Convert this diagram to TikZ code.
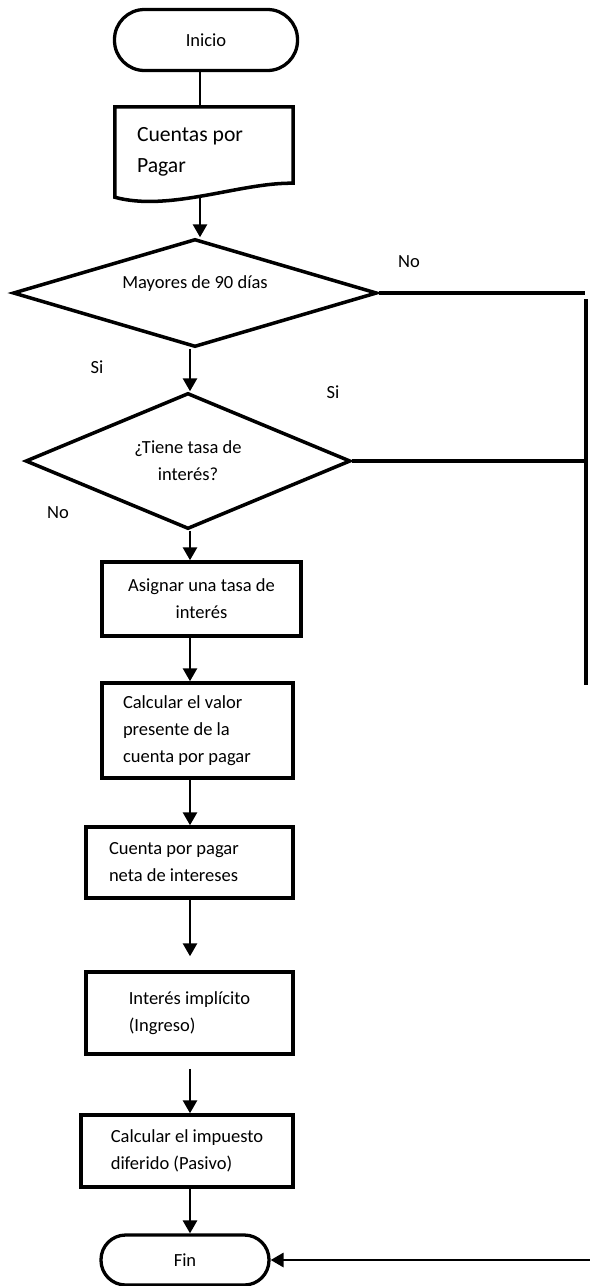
\documentclass[tikz,border=0pt]{standalone}
\usepackage{fontspec}
\setmainfont{Carlito}
\usetikzlibrary{shapes.geometric,arrows.meta}
\tikzset{
  term/.style={draw=black, line width=2.8pt, rounded corners=0.9cm,
    minimum width=5.49cm, minimum height=1.83cm, align=center},
  docbox/.style={draw=none, minimum width=5.34cm, minimum height=2.70cm,
    text width=4.02cm, inner xsep=0.66cm, align=flush left,
    font=\fontsize{18.5}{26}\selectfont},
  docline/.style={draw=black, line width=3pt, line join=miter},
  decision/.style={diamond, draw=black, line width=3pt, inner sep=0pt,
    align=center},
  proc/.style={rectangle, draw=black, line width=3pt, inner sep=0pt},
  arr/.style={-{Triangle[length=11pt, width=12pt]}, draw=black, line width=2pt},
  flow/.style={draw=black, line width=2pt},
  link/.style={draw=black, line width=3pt},
  lab/.style={inner sep=0pt}}
\begin{document}
\begin{tikzpicture}[font=\fontsize{15.8}{23}\selectfont]
  \useasboundingbox (0,0) rectangle (17.7,-38.58);
  \coordinate (topcol) at (6.00,0);
  \coordinate (col) at (5.70,0);
  % main column
  \node[term] (start) at (6.18,-1.20) {Inicio};
  \node[docbox] (doc) at (6.12,-4.56) {Cuentas por\\Pagar};
  \draw[docline] (doc.north west) -- (doc.north east) -- ([yshift=0.42cm]doc.south east)
    .. controls +(-1.59,0.03) and +(1.65,-0.45) .. (doc.south west) -- cycle;
  \node[decision, minimum width=10.92cm, minimum height=3.24cm, aspect=3.4,
    text height=0.40cm, text depth=0.70cm] (d1) at (5.85,-8.79) {Mayores de 90 días};
  \node[decision, minimum width=9.75cm, minimum height=4.08cm, aspect=2.4]
    (d2) at (5.64,-13.83) {¿Tiene tasa de\\interés?};
  \node[proc, minimum width=5.97cm, minimum height=2.22cm, align=center]
    (b1) at (6.045,-17.97) {Asignar una tasa de\\interés};
  \node[proc, minimum width=5.73cm, minimum height=2.85cm, text width=4.47cm,
    inner xsep=0.63cm, align=flush left] (b2) at (5.925,-21.915)
    {Calcular el valor\\presente de la\\cuenta por pagar};
  \node[proc, minimum width=6.21cm, minimum height=2.13cm, text width=4.83cm,
    inner xsep=0.69cm, align=flush left] (b3) at (5.685,-25.875)
    {Cuenta por pagar\\neta de intereses};
  \node[proc, minimum width=6.21cm, minimum height=2.46cm, align=left]
    (b4) at (5.685,-30.39) {Interés implícito\\(Ingreso)};
  \node[proc, minimum width=6.36cm, minimum height=2.16cm, align=left]
    (b5) at (5.61,-34.53) {Calcular el impuesto\\diferido (Pasivo)};
  \node[term, minimum width=5.04cm, minimum height=1.50cm, rounded corners=0.74cm]
    (fin) at (5.55,-37.80) {Fin};
  % connectors
  \draw[flow] (start.south -| topcol) -- (doc.north -| topcol);
  \draw[arr] (doc.south -| topcol) -- (d1.north -| topcol);
  \draw[arr] (d1.south -| col) -- (d2.north -| col);
  \draw[arr] (d2.south -| col) -- (b1.north -| col);
  \draw[arr] (b1.south -| col) -- (b2.north -| col);
  \draw[arr] (b2.south -| col) -- (b3.north -| col);
  \draw[arr, shorten >=0.42cm] (b3.south -| col) -- (b4.north -| col);
  \draw[arr, shorten <=0.39cm] (b4.south -| col) -- (b5.north -| col);
  \draw[arr] (b5.south -| col) -- (fin.north -| col);
  % right-hand return line
  \coordinate (r1) at (17.55,-8.79);
  \coordinate (rtop) at (17.58,-8.97);
  \coordinate (rbot) at (17.58,-20.55);
  \coordinate (rin) at (17.70,-37.80);
  \draw[link] (d1.east) -- (r1);
  \draw[link] (d2.east) -- (d2.east -| r1);
  \draw[link] (rtop) -- (rbot);
  \draw[arr, line width=2.3pt] (rin) -- (fin.east);
  % branch labels
  \node[lab] (no1) at (12.27,-7.86) {No};
  \node[lab] (si1) at (2.91,-11.01) {Si};
  \node[lab] (si2) at (9.99,-11.76) {Si};
  \node[lab] (no2) at (1.74,-15.39) {No};
\end{tikzpicture}
\end{document}
